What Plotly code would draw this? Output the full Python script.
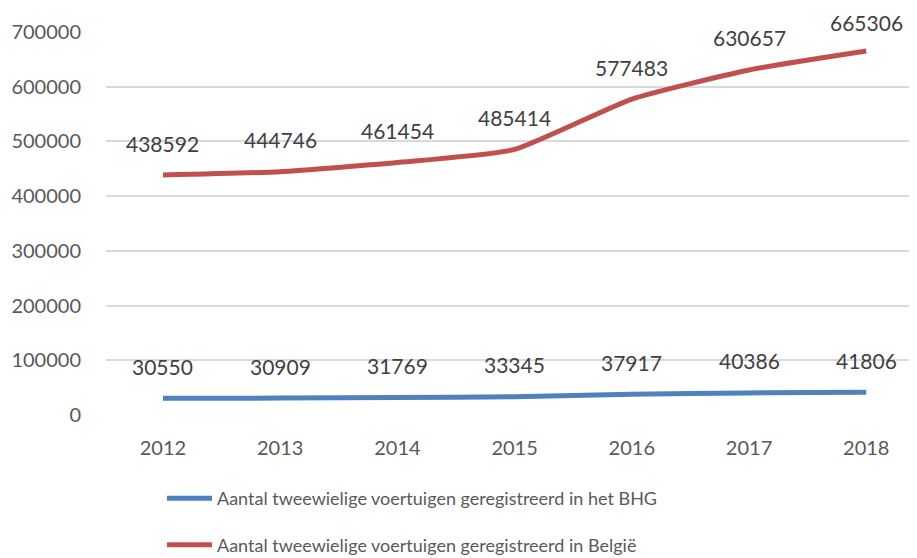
import plotly.graph_objects as go

years = ["2012", "2013", "2014", "2015", "2016", "2017", "2018"]
bhg = [30550, 30909, 31769, 33345, 37917, 40386, 41806]
belgie = [438592, 444746, 461454, 485414, 577483, 630657, 665306]
name_bhg = "Aantal tweewielige voertuigen geregistreerd in het BHG"
name_be = "Aantal tweewielige voertuigen geregistreerd in België"
y_ticks = [0, 100000, 200000, 300000, 400000, 500000, 600000, 700000]

FONT = "Lato, Open Sans, sans-serif"
Y_MAX = 700000
TOP, BOTTOM, HEIGHT = 24, 143, 550
PLOT_H = HEIGHT - TOP - BOTTOM

fig = go.Figure()
fig.add_trace(go.Scatter(x=years, y=bhg, mode="lines", name=name_bhg,
                         line=dict(color="#4F81BD", width=5, shape="spline", smoothing=0.5),
                         legendgroup="a"))
fig.add_trace(go.Scatter(x=years, y=belgie, mode="lines", name=name_be,
                         line=dict(color="#C0504D", width=5, shape="spline", smoothing=0.5),
                         legendgroup="b"))

annotations = []
for series in (bhg, belgie):
    for i, v in enumerate(series):
        # keep label inside the chart area (like Excel clamps labels near the top)
        line_px = TOP + (Y_MAX - v) / Y_MAX * PLOT_H
        shift = min(32, line_px - 15)
        annotations.append(dict(x=i, y=v, xref="x", yref="y", text=str(v), showarrow=False,
                                yshift=shift,
                                font=dict(family=FONT, size=21, color="#404040")))

fig.update_layout(
    width=909, height=HEIGHT,
    margin=dict(l=98, r=0, t=TOP, b=BOTTOM, autoexpand=False),
    paper_bgcolor="white", plot_bgcolor="white",
    font=dict(family=FONT, size=20, color="#595959"),
    showlegend=True,
    legend=dict(x=0.069, xanchor="left", y=-0.17, yanchor="top", orientation="v",
                traceorder="grouped", tracegroupgap=20, itemwidth=45,
                font=dict(family=FONT, size=18, color="#595959"),
                bgcolor="rgba(0,0,0,0)"),
    annotations=annotations,
)
fig.update_xaxes(type="category", range=[-0.486, 6.433], showgrid=False, showline=False,
                 zeroline=False, ticks="", ticklabelstandoff=19,
                 tickfont=dict(family=FONT, size=20, color="#595959"))
fig.update_yaxes(range=[0, Y_MAX], tickvals=y_ticks, ticktext=[str(t) for t in y_ticks],
                 showgrid=True, gridcolor="#D9D9D9", gridwidth=1.5, zeroline=False,
                 showline=False, ticks="", ticklabelstandoff=24,
                 tickfont=dict(family=FONT, size=20, color="#595959"))

fig.write_html("out.html")
